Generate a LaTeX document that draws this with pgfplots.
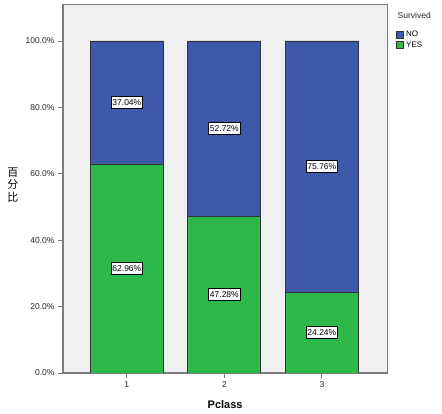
\documentclass[border=0pt]{standalone}
\usepackage{fontspec}
\setmainfont{Liberation Sans}
\newfontfamily\cjk{Noto Sans CJK SC}
\usepackage{pgfplots}
\pgfplotsset{compat=1.18}
\definecolor{spssblue}{RGB}{62,88,170}
\definecolor{spssgreen}{RGB}{46,184,74}
\definecolor{framegray}{RGB}{125,125,125}
\definecolor{bggray}{RGB}{240,240,240}

\begin{document}
\begin{tikzpicture}
\useasboundingbox (-63pt,-41pt) rectangle (379pt,373pt);
\begin{axis}[
    at={(0,0)}, anchor=south west,
    scale only axis,
    x=97.5pt, y=3.32pt,
    xmin=0.345, xmax=3.67, ymin=0, ymax=111.1,
    ybar stacked, bar width=73pt,
    axis background/.style={fill=bggray},
    axis line style={framegray, line width=1.2pt},
    tick style={framegray, line width=0.8pt},
    tick align=outside, major tick length=5pt,
    tick pos=left,
    xtick={1,2,3}, ytick={0,20,...,100},
    yticklabel={\pgfmathprintnumber[fixed,fixed zerofill,precision=1]{\tick}\%},
    /pgf/number format/assume math mode=true,
    tick label style={font=\fontsize{8.5}{9}\selectfont, text=black!85},
    xlabel={Pclass},
    xlabel style={at={(rel axis cs:0.5,0)}, anchor=center, yshift=-32pt,
                  font=\bfseries\fontsize{11}{12}\selectfont},
    ylabel={百\\分\\比},
    ylabel style={at={(rel axis cs:0,0.51)}, anchor=center, rotate=-90, xshift=-50pt,
                  align=center, font=\cjk\fontsize{11}{12.5}\selectfont},
    visualization depends on={rawy \as \rawy},
    nodes near coords={\pgfmathprintnumber[fixed,fixed zerofill,precision=2]{\rawy}\%},
    every node near coord/.append style={anchor=center,
        fill=white, draw=black, line width=0.6pt, inner xsep=1.5pt, inner ysep=3pt,
        font=\fontsize{8.5}{9}\selectfont},
    legend style={at={(rel axis cs:1,1)}, anchor=north west, xshift=9pt, yshift=-25pt,
        draw=none, fill=none, inner sep=0pt, row sep=-1pt,
        font=\fontsize{8}{9}\selectfont},
    legend cell align=left,
    reverse legend,
    legend image code/.code={\draw[#1, draw=black!80] (0pt,-3.5pt) rectangle (7pt,3.5pt);},
]
\addplot[fill=spssgreen, draw=black!80, line width=0.8pt] coordinates {(1,62.96) (2,47.28) (3,24.24)};
\addlegendentry{YES}
\addplot[fill=spssblue, draw=black!80, line width=0.8pt] coordinates {(1,37.04) (2,52.72) (3,75.76)};
\addlegendentry{NO}
\end{axis}
\node[anchor=west, font=\fontsize{8.5}{10}\selectfont, text=black!85] at ([xshift=7pt, yshift=-11pt]current axis.north east) {Survived};
\end{tikzpicture}
\end{document}
